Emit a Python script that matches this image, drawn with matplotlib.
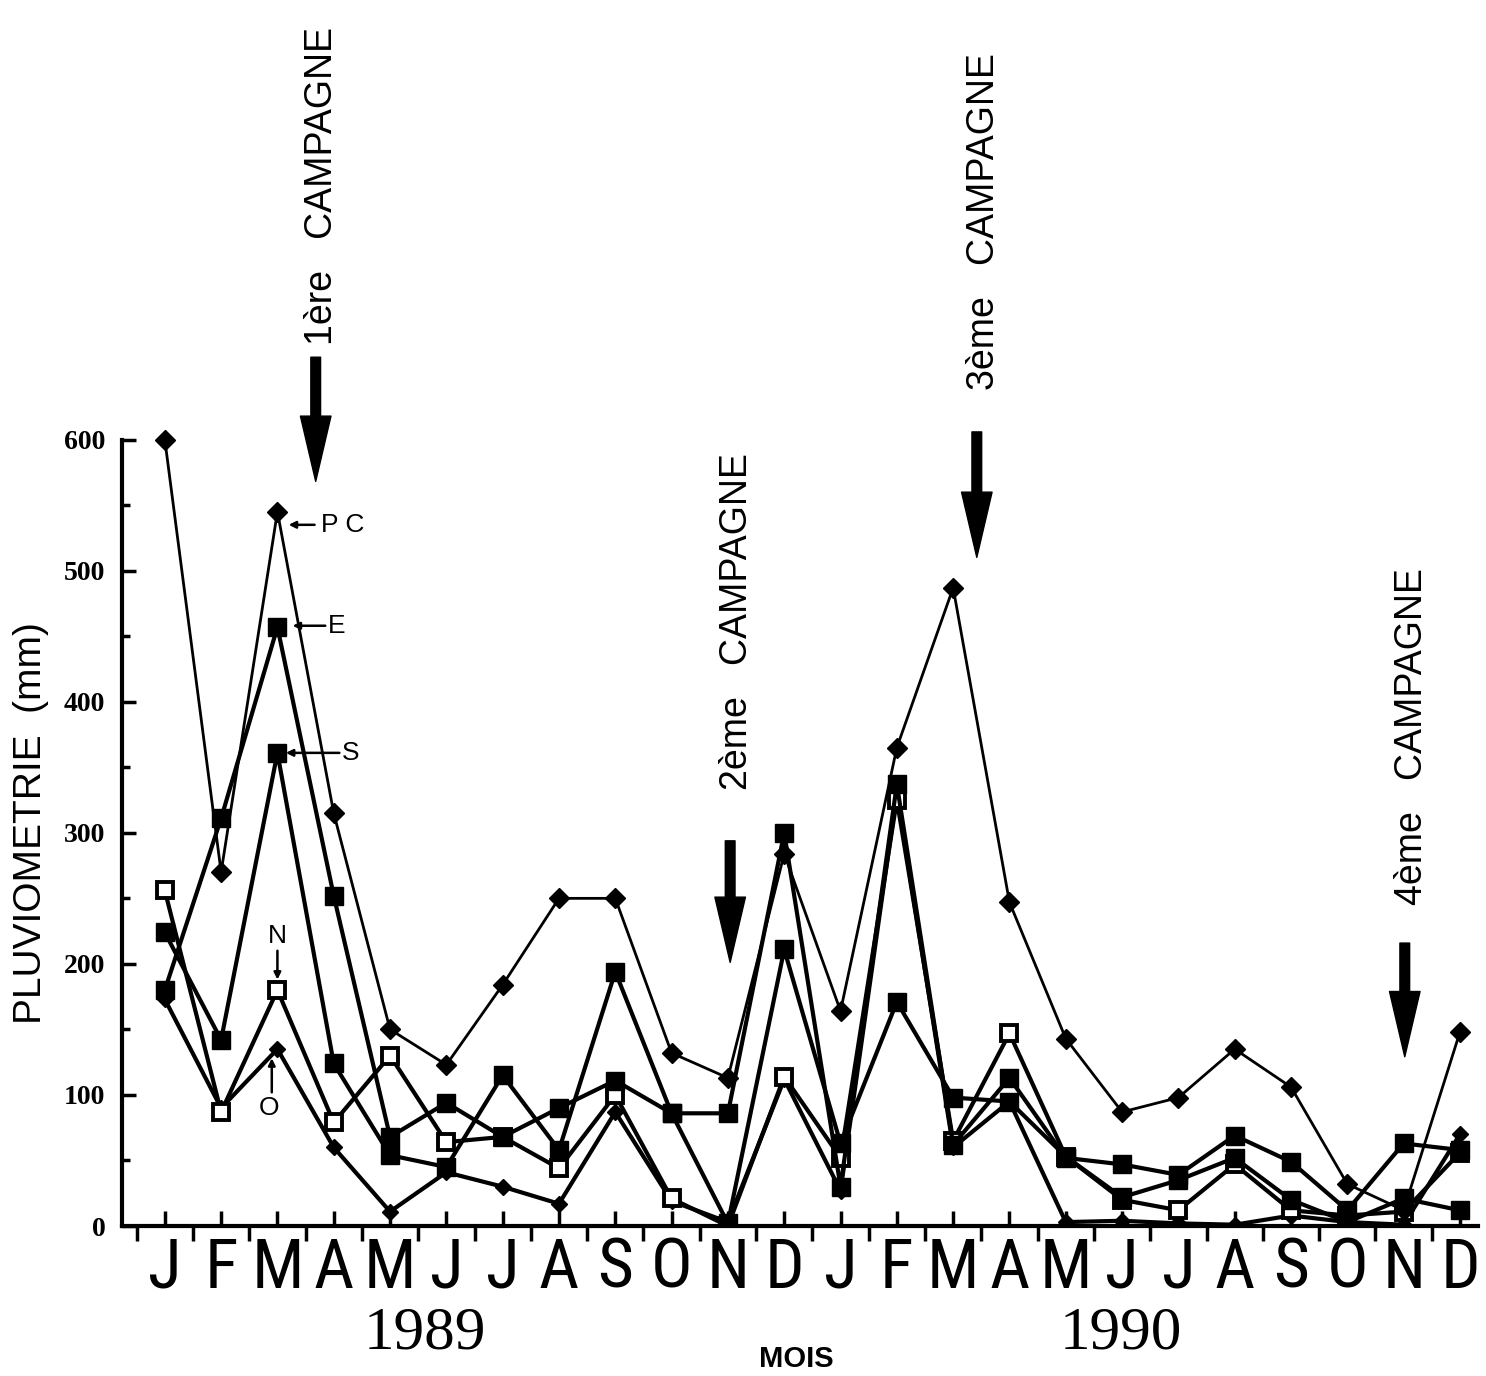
import numpy as np
import matplotlib
matplotlib.use("Agg")
import matplotlib.pyplot as plt
from matplotlib import font_manager

# --- data (mm per month, Jan 1989 .. Dec 1990) ---
months = ["J", "F", "M", "A", "M", "J", "J", "A", "S", "O", "N", "D",
          "J", "F", "M", "A", "M", "J", "J", "A", "S", "O", "N", "D"]
pc = [600, 270, 545, 315, 150, 123, 184, 250, 250, 132, 113, 284,
      164, 365, 487, 247, 143, 87, 98, 135, 106, 32, 12, 148]
e = [180, 311, 457, 252, 68, 94, 68, 90, 111, 86, 86, 300,
     30, 337, 62, 113, 52, 47, 39, 69, 49, 12, 63, 58]
s = [224, 142, 361, 124, 54, 45, 115, 58, 194, 86, 2, 211,
     63, 171, 98, 95, 53, 22, 35, 52, 20, 3, 21, 12]
n = [256, 87, 180, 79, 130, 64, 68, 44, 100, 21, 0, 114,
     52, 325, 65, 147, 53, 20, 12, 47, 12, 8, 11, 56]
o = [173, 90, 135, 60, 11, 41, 30, 17, 87, 19, 3, 112,
     27, 330, 60, 95, 3, 4, 2, 1, 8, 3, 1, 70]

# campaign arrows: (month position, tip value, tail value, label, label bottom)
campagnes = [(2.68, 566, 665, "1ère   CAMPAGNE", 672),
             (10.04, 199, 296, "2ème   CAMPAGNE", 333),
             (14.42, 508, 608, "3ème   CAMPAGNE", 638),
             (22.02, 127, 218, "4ème   CAMPAGNE", 245)]

names = {f.name for f in font_manager.fontManager.ttflist}
sans = "Liberation Sans" if "Liberation Sans" in names else "DejaVu Sans"
serif = "Liberation Serif" if "Liberation Serif" in names else "DejaVu Serif"

# month letters are tall and narrow in the original
narrow_fp = None
for cand in ["Liberation Sans Narrow", "Roboto Condensed", "Open Sans Condensed"]:
    if cand in names:
        narrow_fp = font_manager.FontProperties(family=cand, size=50)
        break
if narrow_fp is None:
    fp = font_manager.FontProperties(family="DejaVu Sans", stretch="condensed")
    if "Condensed" in font_manager.findfont(fp):
        narrow_fp = font_manager.FontProperties(family="DejaVu Sans",
                                                stretch="condensed", size=48)
    else:
        narrow_fp = font_manager.FontProperties(family=sans, size=44)

fig = plt.figure(figsize=(14.86, 13.76), dpi=100)
ax = fig.add_axes([0.0821, 0.1090, 0.9125, 0.5858])

x = np.arange(len(months))

ax.plot(x, o, color="black", lw=3, marker="D", ms=8, zorder=3)
ax.plot(x, n, color="black", lw=3, marker="s", ms=12, mfc="white",
        mec="black", mew=2.8, zorder=4)
ax.plot(x, s, color="black", lw=3, marker="s", ms=13, zorder=5)
ax.plot(x, e, color="black", lw=3, marker="s", ms=13, zorder=6)
ax.plot(x, pc, color="black", lw=2, marker="D", ms=10, zorder=7)

ax.set_xlim(-0.76, 23.32)
ax.set_ylim(0, 615)

for side in ["top", "right"]:
    ax.spines[side].set_visible(False)
ax.spines["left"].set_bounds(0, 600)
ax.spines["left"].set_linewidth(3)
ax.spines["bottom"].set_linewidth(3)

ax.set_yticks(range(0, 601, 100))
ax.set_yticks(range(50, 600, 100), minor=True)
ax.tick_params(axis="y", which="major", direction="in", length=10, width=2.5,
               pad=12, labelsize=20)
ax.tick_params(axis="y", which="minor", direction="in", length=6, width=2.5)
for lab in ax.get_yticklabels():
    lab.set_fontfamily(serif)
    lab.set_fontweight("bold")

ax.set_xticks(x)
ax.set_xticklabels(months, fontproperties=narrow_fp)
ax.set_xticks(np.arange(-0.5, 23.5, 1.0), minor=True)
ax.tick_params(axis="x", which="major", direction="in", length=11, width=2.5, pad=7)
ax.tick_params(axis="x", which="minor", direction="out", length=11, width=2.5)

ax.set_ylabel("PLUVIOMETRIE  (mm)", fontsize=28, family=sans)
ax.yaxis.set_label_coords(-0.054, 0.5)

# campaign arrows and labels
for xm, tip, tail, label, ytxt in campagnes:
    ax.annotate("", xy=(xm, tip), xytext=(xm, tail), annotation_clip=False,
                arrowprops=dict(arrowstyle="simple,head_length=4.7,head_width=2.2,tail_width=0.7",
                                mutation_scale=10, fc="black", ec="black"))
    ax.text(xm + 0.12, ytxt, label, rotation=90, ha="center", va="bottom",
            fontsize=27, family=sans, clip_on=False)

# station labels with small pointer arrows
arrow = dict(arrowstyle="-|>", lw=1.8, color="black", shrinkA=0, shrinkB=0,
             mutation_scale=10)
ax.annotate("", xy=(2.2, 535), xytext=(2.66, 535), arrowprops=arrow)
ax.text(2.78, 535, "P C", va="center", ha="left", fontsize=19, family=sans)
ax.annotate("", xy=(2.27, 458), xytext=(2.85, 458), arrowprops=arrow)
ax.text(2.9, 458, "E", va="center", ha="left", fontsize=19, family=sans)
ax.annotate("", xy=(2.15, 361), xytext=(3.1, 361), arrowprops=arrow)
ax.text(3.15, 361, "S", va="center", ha="left", fontsize=19, family=sans)
ax.annotate("", xy=(2, 188), xytext=(2, 210), arrowprops=arrow)
ax.text(2, 212, "N", va="bottom", ha="center", fontsize=19, family=sans)
ax.annotate("", xy=(1.9, 128), xytext=(1.9, 102), arrowprops=arrow)
ax.text(1.85, 99, "O", va="top", ha="center", fontsize=19, family=sans)

fig.text(0.286, 0.031, "1989", ha="center", va="center", fontsize=44, family=serif)
fig.text(0.536, 0.012, "MOIS", ha="center", va="center", fontsize=21,
         fontweight="bold", family=sans)
fig.text(0.754, 0.031, "1990", ha="center", va="center", fontsize=44, family=serif)

fig.savefig("out.png", dpi=100)
